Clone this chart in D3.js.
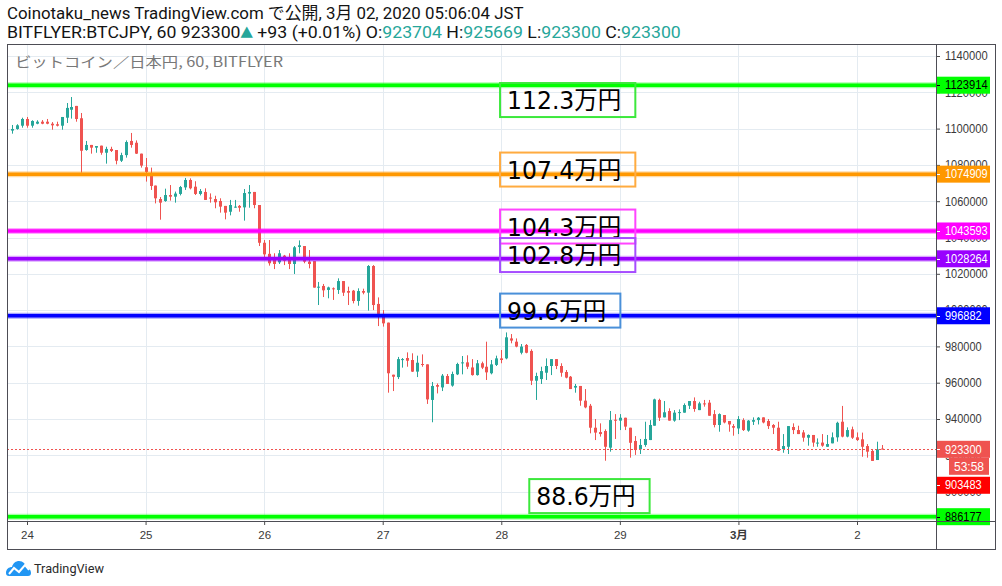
<!DOCTYPE html>
<html>
<head>
<meta charset="utf-8">
<script src="https://cdn.jsdelivr.net/npm/d3@7"></script>
<style>
  html, body { margin: 0; padding: 0; background: #fff; }
  svg { display: block; font-family: "Liberation Sans", Arial, sans-serif; }
</style>
</head>
<body>
<svg id="chart" width="1002" height="586"></svg>
<script>
// hourly BTC/JPY candles (千円), first bar 2020-02-23 21:00 JST
const opens = [
  1098.9,1099.8,1101.6,1105.3,1101.6,1102.7,1103.8,1103.8,1102.7,1102.4,
  1101.6,1106.0,1110.4,1112.5,1105.7,1088.2,1091.0,1089.5,1090.6,1086.7,
  1088.8,1088.2,1082.3,1085.4,1093.2,1092.2,1086.2,1078.7,1074.2,1068.6,
  1061.2,1060.1,1063.4,1062.5,1064.0,1067.6,1071.7,1068.0,1064.0,1065.1,
  1062.0,1061.2,1060.1,1057.4,1054.2,1056.6,1057.4,1056.6,1064.2,1065.1,
  1057.9,1037.1,1031.0,1029.1,1026.3,1030.0,1029.1,1025.4,1034.8,1035.3,
  1026.7,1027.0,1012.4,1013.3,1011.1,1012.0,1011.1,1016.0,1010.5,1010.7,
  1005.0,1010.5,1009.6,1024.3,1003.4,997.9,993.1,964.4,963.1,972.9,
  973.6,972.5,966.1,970.3,970.1,950.5,958.7,957.4,963.7,958.4,
  964.6,970.7,971.2,968.4,964.2,970.7,968.8,965.2,969.8,973.4,
  973.4,984.4,982.6,976.5,980.8,977.5,961.1,962.0,965.5,969.2,
  973.0,969.2,965.9,963.3,957.3,958.2,950.1,947.3,935.2,932.8,
  933.4,924.2,939.6,939.1,940.7,935.2,927.9,923.3,925.7,928.4,
  936.3,950.5,940.9,944.4,939.1,943.5,943.5,947.3,949.9,944.9,
  948.6,949.0,942.7,936.7,942.2,938.9,936.1,934.8,939.4,933.6,
  938.5,939.4,940.9,938.9,936.7,935.2,923.4,924.7,935.6,933.9,
  932.6,929.7,931.2,926.6,927.0,924.7,926.6,929.9,938.5,930.3,
  934.3,929.9,928.8,925.1,922.4,917.4,923.704
];
const highs = [
  1102.0,1102.4,1106.0,1106.4,1104.6,1104.6,1104.7,1105.3,1103.6,1103.8,
  1106.4,1114.1,1117.4,1112.5,1108.6,1093.2,1091.0,1090.4,1090.6,1090.0,
  1090.0,1088.2,1086.7,1093.5,1097.6,1093.5,1086.2,1083.8,1078.5,1068.6,
  1062.3,1066.9,1068.9,1065.3,1068.4,1072.8,1072.6,1071.0,1066.7,1067.1,
  1064.3,1063.0,1061.6,1057.4,1060.7,1060.7,1057.9,1066.7,1068.9,1065.1,
  1057.9,1038.6,1038.6,1031.3,1033.1,1030.4,1031.3,1035.3,1038.4,1035.3,
  1033.1,1027.0,1015.5,1014.4,1012.9,1012.5,1017.5,1016.0,1012.9,1011.1,
  1012.0,1011.8,1024.8,1024.8,1007.0,1000.0,993.1,964.4,974.2,973.6,
  976.7,976.2,974.9,975.6,970.1,960.4,959.6,964.8,964.8,966.1,
  971.0,974.7,975.1,973.0,972.5,971.6,982.6,972.5,974.9,978.0,
  987.7,986.8,984.4,981.3,981.3,978.4,965.5,968.8,973.4,973.0,
  973.0,970.7,967.0,963.7,959.3,958.2,956.5,948.3,940.0,937.6,
  934.3,944.4,942.7,942.7,940.7,935.2,930.6,929.0,938.5,939.4,
  951.2,951.2,949.9,945.9,944.9,945.3,948.6,949.9,951.9,949.5,
  950.5,950.5,944.9,943.1,942.2,938.9,937.2,941.6,940.4,939.4,
  940.9,941.1,940.9,940.0,937.2,938.5,931.7,936.1,937.6,936.3,
  933.9,931.5,931.2,929.3,931.7,931.2,932.6,938.5,947.2,935.4,
  935.8,932.6,932.5,926.2,923.3,927.5,925.669
];
const lows = [
  1097.2,1099.4,1100.5,1100.5,1100.5,1102.4,1102.4,1102.4,1099.4,1101.2,
  1099.4,1103.1,1105.5,1103.8,1075.7,1087.8,1086.2,1086.7,1085.6,1080.7,
  1087.1,1080.3,1081.6,1084.0,1089.5,1086.0,1078.5,1070.8,1066.2,1058.8,
  1049.8,1059.7,1060.3,1059.2,1063.2,1066.2,1066.5,1063.4,1063.2,1060.7,
  1059.2,1056.1,1053.7,1050.0,1052.2,1056.4,1054.2,1049.3,1056.4,1056.1,
  1035.3,1029.0,1024.5,1022.6,1025.4,1024.8,1022.6,1019.9,1031.3,1025.8,
  1023.0,1012.4,1002.8,1007.2,1006.5,1005.6,1008.9,1007.8,1002.8,1003.7,
  1002.4,1008.7,999.7,1000.0,991.2,990.9,954.5,955.4,962.0,968.3,
  968.8,965.9,963.1,968.8,948.3,938.2,954.1,955.4,959.3,957.8,
  964.2,964.6,967.5,963.9,963.9,967.5,961.5,964.6,969.2,970.7,
  972.9,981.7,979.5,975.6,976.2,958.7,950.5,959.3,961.5,964.2,
  967.5,963.3,962.4,956.5,954.5,947.3,945.9,932.1,928.4,930.3,
  917.0,922.0,929.0,933.9,933.9,918.7,920.2,920.7,924.7,928.4,
  936.3,938.9,940.9,939.1,938.5,939.4,943.5,945.5,944.0,944.9,
  946.8,941.8,935.4,933.0,937.6,933.0,930.8,931.7,933.4,933.0,
  936.7,937.0,937.6,934.5,931.7,922.4,921.4,920.7,931.7,931.7,
  927.5,925.3,924.7,924.7,924.7,924.7,926.6,927.5,929.9,929.9,
  929.0,927.9,919.2,918.7,916.9,917.4,923.3
];
const closes = [
  1099.8,1101.8,1105.3,1101.6,1104.2,1103.8,1102.7,1102.7,1101.8,1101.6,
  1106.4,1111.4,1111.9,1105.3,1087.8,1091.0,1089.5,1090.4,1086.7,1088.8,
  1087.7,1082.3,1085.4,1092.6,1091.0,1086.2,1079.6,1076.1,1068.4,1061.6,
  1059.2,1063.4,1062.5,1064.2,1067.8,1071.7,1067.1,1064.0,1065.6,1060.7,
  1061.6,1059.4,1057.0,1053.7,1057.9,1057.0,1056.4,1064.5,1065.1,1057.9,
  1037.1,1030.7,1025.8,1025.4,1031.3,1027.2,1025.4,1034.6,1035.7,1026.7,
  1025.4,1012.4,1012.9,1010.9,1012.5,1011.6,1016.0,1009.6,1009.6,1005.0,
  1010.5,1009.6,1024.3,1002.8,997.9,992.7,965.2,963.3,973.0,973.0,
  972.1,966.1,971.0,969.9,950.8,958.2,957.8,963.9,959.3,964.8,
  970.3,971.2,968.8,964.2,970.7,968.3,965.7,970.1,973.4,972.5,
  985.0,983.2,979.9,979.9,976.5,961.1,963.7,966.4,969.2,973.0,
  969.2,965.5,962.8,956.5,958.2,950.1,946.4,935.2,932.5,931.7,
  924.7,939.4,939.1,940.7,935.8,926.9,922.9,925.7,929.0,936.7,
  950.8,940.7,943.7,939.1,943.5,943.8,947.7,949.9,945.5,948.6,
  948.3,941.8,936.7,942.7,938.1,937.0,935.2,940.0,933.9,939.1,
  939.4,940.7,938.1,936.1,935.2,922.5,925.1,936.1,933.9,931.7,
  929.7,931.2,927.0,927.0,925.3,926.2,929.9,937.9,930.3,933.9,
  929.7,928.4,924.7,922.0,916.9,923.3,923.3
];

// horizontal levels drawn on the chart
const levelPrices = [1123914, 1074909, 1043593, 1028264, 996882, 886177];
const levelColors = ["#00ff00", "#ff9800", "#ff00ff", "#9900ff", "#0000ff", "#00ff00"];
const levelTextColors = ["#000", "#fff", "#fff", "#fff", "#fff", "#000"];

// text notes (top-left anchor: price, time)
const noteLabels = ["112.3万円", "107.4万円", "104.3万円", "102.8万円", "99.6万円", "88.6万円"];
const notePrices = [1125100, 1086800, 1055400, 1039700, 1009100, 906900];
const noteTimes = ["2020-02-27T23:45", "2020-02-27T23:45", "2020-02-27T23:45",
                   "2020-02-27T23:45", "2020-02-27T23:45", "2020-02-28T05:40"];
const noteColors = ["#3ce83c", "#ffab40", "#ff44ff", "#a64dff", "#4a90d9", "#3ce83c"];

const priceTicks = d3.range(900000, 1140001, 20000);
const dayLabels = ["24", "25", "26", "27", "28", "29", "3月", "2"];
const dayDates = d3.utcDay.range(new Date(Date.UTC(2020, 1, 24)), new Date(Date.UTC(2020, 2, 3)));

const lastPrice = 923300;
const markPrice = 903483;
const countdown = "53:58";

const svg = d3.select("#chart");
const up = "#26a69a", down = "#ef5350";
const digitW = 6.1; // axis label digit width, px

const pane = { left: 7, top: 44, right: 936, bottom: 521, outerRight: 995, outerBottom: 549 };

// times are treated as JST wall-clock in UTC
const firstBar = Date.UTC(2020, 1, 23, 21);
const candles = opens.map((o, i) => ({
  t: new Date(firstBar + i * 3600e3),
  o: o * 1000, h: highs[i] * 1000, l: lows[i] * 1000, c: closes[i] * 1000
}));

const x = d3.scaleUtc()
  .domain([new Date(Date.UTC(2020, 1, 24)), new Date(Date.UTC(2020, 2, 2))])
  .range([27, 857]);
const y = d3.scaleLinear().domain([940000, 1140000]).range([419, 56]);

svg.append("rect").attr("width", 1002).attr("height", 586).attr("fill", "#fff");

svg.append("defs").append("clipPath").attr("id", "plot")
  .append("rect")
  .attr("x", pane.left).attr("y", pane.top)
  .attr("width", pane.right - pane.left).attr("height", pane.bottom - pane.top);

const plot = svg.append("g").attr("clip-path", "url(#plot)");

// grid
plot.append("g").selectAll("line").data(priceTicks).join("line")
  .attr("x1", pane.left).attr("x2", pane.right)
  .attr("y1", d => Math.round(y(d)) + 0.5).attr("y2", d => Math.round(y(d)) + 0.5)
  .attr("stroke", "#e4ebf1");
plot.append("g").selectAll("line").data(dayDates).join("line")
  .attr("x1", d => Math.round(x(d)) + 0.5).attr("x2", d => Math.round(x(d)) + 0.5)
  .attr("y1", pane.top).attr("y2", pane.bottom)
  .attr("stroke", "#e4ebf1");

// candles
const bars = plot.append("g").selectAll("g").data(candles).join("g");
bars.append("line")
  .attr("x1", d => Math.round(x(d.t)) + 0.5).attr("x2", d => Math.round(x(d.t)) + 0.5)
  .attr("y1", d => y(d.h)).attr("y2", d => y(d.l))
  .attr("stroke", d => d.c >= d.o ? up : down);
bars.append("rect")
  .attr("x", d => Math.round(x(d.t)) - 1)
  .attr("width", 3)
  .attr("y", d => y(Math.max(d.o, d.c)))
  .attr("height", d => Math.max(1, Math.abs(y(d.o) - y(d.c))))
  .attr("fill", d => d.c >= d.o ? up : down);

// last price dotted line
plot.append("line")
  .attr("x1", pane.left).attr("x2", pane.right)
  .attr("y1", Math.round(y(lastPrice)) + 0.5).attr("y2", Math.round(y(lastPrice)) + 0.5)
  .attr("stroke", down).attr("stroke-dasharray", "2,2");

// level lines
const levels = plot.append("g").selectAll("g").data(levelPrices).join("g");
levels.append("line")
  .attr("x1", pane.left).attr("x2", pane.right)
  .attr("y1", d => y(d)).attr("y2", d => y(d))
  .attr("stroke", (d, i) => levelColors[i]).attr("stroke-width", 6).attr("stroke-opacity", 0.35);
levels.append("line")
  .attr("x1", pane.left).attr("x2", pane.right)
  .attr("y1", d => y(d)).attr("y2", d => y(d))
  .attr("stroke", (d, i) => levelColors[i]).attr("stroke-width", 3.5);

// note boxes
const notes = plot.append("g").selectAll("g").data(noteLabels).join("g")
  .attr("transform", (d, i) => `translate(${x(new Date(noteTimes[i] + "Z"))},${y(notePrices[i])})`);
notes.each(function (d, i) {
  const g = d3.select(this);
  const t = g.append("text")
    .attr("x", 7).attr("y", 26)
    .attr("font-family", "'DejaVu Sans', 'Noto Sans CJK JP', sans-serif")
    .attr("font-size", 25)
    .attr("fill", "#000")
    .text(d);
  const w = t.node().getComputedTextLength() * 0.94;
  t.attr("textLength", w).attr("lengthAdjust", "spacingAndGlyphs");
  g.insert("rect", "text")
    .attr("x", 0).attr("y", 0)
    .attr("width", w + 21).attr("height", 34)
    .attr("fill", "none")
    .attr("stroke", noteColors[i]).attr("stroke-width", 2);
});

// subtitle
const sub = svg.append("text")
  .attr("x", 15).attr("y", 67)
  .attr("font-family", "'Noto Sans CJK JP', sans-serif")
  .attr("font-size", 14).attr("fill", "#787878")
  .text("ビットコイン／日本円, 60, BITFLYER");
sub.attr("textLength", 268).attr("lengthAdjust", "spacingAndGlyphs");

// price axis
const yAxis = svg.append("g")
  .attr("transform", `translate(${pane.right},0)`)
  .call(d3.axisRight(y).tickValues(priceTicks).tickSize(4).tickPadding(5).tickFormat(d3.format("d")));
yAxis.select(".domain").remove();
yAxis.selectAll("line").attr("stroke", "#4a4a4a");
yAxis.selectAll("text").attr("font-size", 12).attr("fill", "#3a3a3a")
  .attr("font-family", "'Liberation Sans', Arial, sans-serif")
  .attr("textLength", d => String(d).length * digitW).attr("lengthAdjust", "spacingAndGlyphs");

// time axis
const xAxis = svg.append("g")
  .attr("transform", `translate(0,${pane.bottom})`)
  .call(d3.axisBottom(x).tickValues(dayDates.slice(0, dayLabels.length))
    .tickFormat((d, i) => dayLabels[i]).tickSize(4).tickPadding(6));
xAxis.select(".domain").remove();
xAxis.selectAll("line").attr("stroke", "#4a4a4a");
xAxis.selectAll("text").attr("font-size", 11.5).attr("fill", "#3a3a3a")
  .attr("font-family", "'Liberation Sans', 'Noto Sans CJK JP', sans-serif")
  .attr("font-weight", (d, i) => dayLabels[i].includes("月") ? "bold" : null);

// price tags on the axis
function tag(price, bg, fg, label) {
  const yy = y(price);
  const g = svg.append("g");
  g.append("rect").attr("x", pane.right).attr("y", yy - 8.5)
    .attr("width", 54).attr("height", 17).attr("fill", bg);
  g.append("line").attr("x1", pane.right).attr("x2", pane.right + 4)
    .attr("y1", Math.round(yy) + 0.5).attr("y2", Math.round(yy) + 0.5).attr("stroke", fg);
  g.append("text").attr("x", pane.right + 9).attr("y", yy).attr("dy", "0.35em")
    .attr("font-size", 12).attr("fill", fg)
    .attr("textLength", label.length * digitW).attr("lengthAdjust", "spacingAndGlyphs")
    .text(label);
}
levelPrices.forEach((p, i) => tag(p, levelColors[i], levelTextColors[i], d3.format("d")(p)));
tag(markPrice, "#ff0000", "#fff", d3.format("d")(markPrice));
tag(lastPrice, down, "#fff", d3.format("d")(lastPrice));
svg.append("rect").attr("x", 949).attr("y", y(lastPrice) + 8.5)
  .attr("width", 40).attr("height", 17).attr("fill", down);
svg.append("text").attr("x", 969).attr("y", y(lastPrice) + 17).attr("dy", "0.35em")
  .attr("text-anchor", "middle").attr("font-size", 12).attr("fill", "#fff").text(countdown);

// pane borders
const border = svg.append("g").attr("stroke", "#4d4d55").attr("fill", "none");
border.append("rect").attr("x", pane.left + 0.5).attr("y", pane.top + 0.5)
  .attr("width", pane.outerRight - pane.left).attr("height", pane.outerBottom - pane.top);
border.append("line").attr("x1", pane.right + 0.5).attr("x2", pane.right + 0.5)
  .attr("y1", pane.top).attr("y2", pane.outerBottom);
border.append("line").attr("x1", pane.left).attr("x2", pane.outerRight)
  .attr("y1", pane.bottom + 0.5).attr("y2", pane.bottom + 0.5);

// header lines
function fit(sel, width) {
  const w = sel.node().getComputedTextLength();
  sel.attr("transform", `translate(7,0) scale(${width / w},1)`);
}
const h1 = svg.append("text").attr("x", 0).attr("y", 19)
  .attr("font-family", "'Roboto', 'Noto Sans CJK JP', sans-serif")
  .attr("font-size", 16.5).attr("fill", "#131313")
  .text("Coinotaku_news TradingView.com で公開, 3月 02, 2020 05:06:04 JST");
fit(h1, 517);

const last = candles[candles.length - 1];
const h2 = svg.append("text").attr("x", 0).attr("y", 38)
  .attr("font-family", "'Roboto', sans-serif")
  .attr("font-size", 16.5).attr("fill", "#131313");
h2.append("tspan").text("BITFLYER:BTCJPY, 60 " + lastPrice);
h2.append("tspan").attr("fill", up).attr("font-size", 15).attr("dy", -2)
  .attr("font-family", "'DejaVu Sans', sans-serif").text("▲");
h2.append("tspan").attr("dy", 2).text(" +93 (+0.01%) O:");
h2.append("tspan").attr("fill", up).text(Math.round(last.o));
h2.append("tspan").text(" H:");
h2.append("tspan").attr("fill", up).text(Math.round(last.h));
h2.append("tspan").text(" L:");
h2.append("tspan").attr("fill", up).text(Math.round(last.l));
h2.append("tspan").text(" C:");
h2.append("tspan").attr("fill", up).text(Math.round(last.c));
fit(h2, 674);

// TradingView logo
const logo = svg.append("g").attr("transform", "translate(6,560)");
logo.append("path")
  .attr("d", "M0,13 C0,9 3,7 6,7 C7,3 10,1 13,1 C17,1 20,4 20,8 C23,8 25,10 25,13 C25,15 24,16 22,16 L3,16 C1,16 0,15 0,13 Z")
  .attr("fill", "#2196f3");
logo.append("polyline")
  .attr("points", "3,14 8,8 13,12 19,5 23,10")
  .attr("fill", "none").attr("stroke", "#fff").attr("stroke-width", 2);
svg.append("text").attr("x", 34).attr("y", 573)
  .attr("font-family", "'Roboto', sans-serif").attr("font-size", 13)
  .attr("fill", "#2a2a2a").attr("textLength", 70).attr("lengthAdjust", "spacingAndGlyphs")
  .text("TradingView");
</script>
</body>
</html>
